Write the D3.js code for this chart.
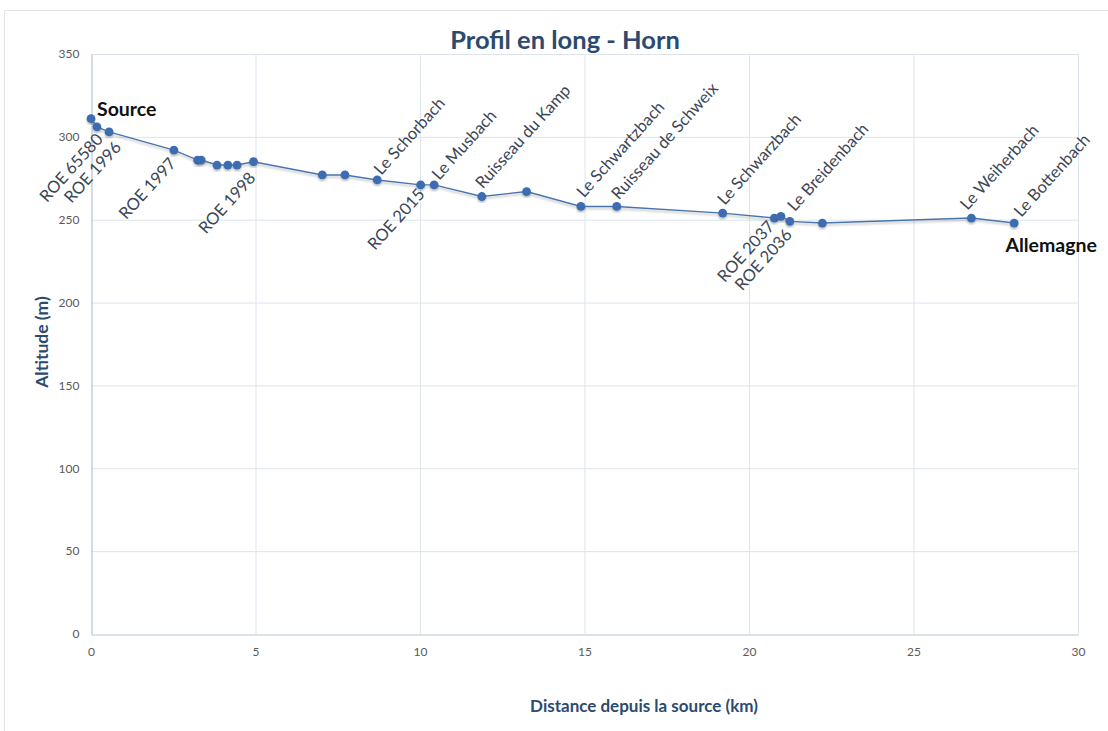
<!DOCTYPE html>
<html><head><meta charset="utf-8">
<script src="https://cdn.jsdelivr.net/npm/d3@7"></script>
<style>
html,body{margin:0;padding:0;background:#fff;}
svg{display:block;}
</style></head>
<body>
<svg id="chart" width="1108" height="731"></svg>
<script>
// ---- data ----
const distanceKm = [0, 0.18, 0.55, 2.52, 3.24, 3.35, 3.83, 4.16, 4.44, 4.94, 7.03, 7.72, 8.70, 10.02, 10.43, 11.88, 13.24, 14.89, 15.98, 19.20, 20.77, 20.97, 21.24, 22.23, 26.76, 28.06];
const altitudeM = [311, 306, 303, 292, 286, 286, 283, 283, 283, 285, 277, 277, 274, 271, 271, 264, 267, 258, 258, 254, 251, 252, 249, 248, 251, 248];
const pointNames = ["", "ROE 65580", "ROE 1996", "ROE 1997", "", "", "", "", "", "ROE 1998", "", "", "Le Schorbach", "ROE 2015", "Le Musbach", "Ruisseau du Kamp", "", "Le Schwartzbach", "Ruisseau de Schweix", "Le Schwarzbach", "ROE 2037", "ROE 2036", "Le Breidenbach", "", "Le Weiherbach", "Le Bottenbach"];
const startLabel = "Source";
const endLabel = "Allemagne";
const xTicks = [0, 5, 10, 15, 20, 25, 30];
const yTicks = [0, 50, 100, 150, 200, 250, 300, 350];
const titleText = "Profil en long - Horn";
const xTitle = "Distance depuis la source (km)";
const yTitle = "Altitude (m)";

// ---- label placement (pixel offsets from the marker, layout only) ----
const labelOffsets = {
  "ROE 65580": [7, 13], "ROE 1996": [13, 16], "ROE 1997": [3, 14], "ROE 1998": [3, 17],
  "ROE 2015": [5, 10], "ROE 2037": [1, 9], "ROE 2036": [12, 19],
  "Le Schorbach": [4, -4], "Le Musbach": [5, -4], "Ruisseau du Kamp": [1, -7],
  "Le Schwartzbach": [3, -8], "Ruisseau de Schweix": [2, -6], "Le Schwarzbach": [2, -7],
  "Le Breidenbach": [5, -9], "Le Weiherbach": [-4, -7], "Le Bottenbach": [7, -5]
};
const labelAngle = -48;

// ---- layout ----
const svg = d3.select("#chart");
const x = d3.scaleLinear().domain([0, 30]).range([91, 1078]);
const y = d3.scaleLinear().domain([0, 350]).range([634, 54]);
const FONT = "Lato, 'Open Sans', sans-serif";
const labelColor = "#3a4656";
const titleColor = "#2c4a6e";
const lineColor = "#4a74ad";
const dotColor = "#3e6db0";

// size point labels so the longest one spans the same length as in the reference
const probe = svg.append("text").attr("font-family", FONT).attr("font-size", 16).text("Ruisseau de Schweix");
const labelSize = 16 * 150 / probe.node().getComputedTextLength();
probe.remove();

// outer frame
svg.append("rect").attr("x", 4.5).attr("y", 10.5).attr("width", 1120).attr("height", 740)
  .attr("fill", "none").attr("stroke", "#e3e3e3").attr("stroke-width", 1);

const defs = svg.append("defs");
const f = defs.append("filter").attr("id", "sh").attr("x", "-5%").attr("y", "-20%").attr("width", "110%").attr("height", "140%");
f.append("feDropShadow").attr("dx", 0).attr("dy", 2).attr("stdDeviation", 1.2).attr("flood-color", "#000").attr("flood-opacity", 0.25);

// gridlines
svg.append("g").selectAll("line").data(yTicks.filter(d => d > 0)).join("line")
  .attr("x1", x(0)).attr("x2", x(30)).attr("y1", d => y(d) + 0.5).attr("y2", d => y(d) + 0.5)
  .attr("stroke", "#dde4ee").attr("stroke-width", 1);
svg.append("g").selectAll("line").data(xTicks.filter(d => d > 0)).join("line")
  .attr("y1", y(0)).attr("y2", y(350)).attr("x1", d => x(d) + 0.5).attr("x2", d => x(d) + 0.5)
  .attr("stroke", "#dde4ee").attr("stroke-width", 1);

// axes
const xAxis = d3.axisBottom(x).tickValues(xTicks).tickSize(0).tickPadding(13).tickFormat(d3.format("d"));
const yAxis = d3.axisLeft(y).tickValues(yTicks).tickSize(0).tickPadding(12).tickFormat(d3.format("d"));
const gx = svg.append("g").attr("transform", `translate(0,${y(0) + 0.5})`).call(xAxis);
const gy = svg.append("g").attr("transform", `translate(${x(0) + 0.5},0)`).call(yAxis);
[gx, gy].forEach(g => {
  g.select(".domain").attr("stroke", "#b5c3d8").attr("stroke-width", 1.2);
  g.selectAll("text").attr("fill", "#5a5a5a").attr("font-family", FONT).attr("font-size", 12);
});

// line + markers
const pts = distanceKm.map((d, i) => ({ d, a: altitudeM[i], name: pointNames[i] }));
const line = d3.line().x(p => x(p.d)).y(p => y(p.a));
svg.append("path").datum(pts).attr("d", line).attr("fill", "none")
  .attr("stroke", lineColor).attr("stroke-width", 1.4).attr("filter", "url(#sh)");
svg.append("g").selectAll("circle").data(pts).join("circle")
  .attr("cx", p => x(p.d)).attr("cy", p => y(p.a)).attr("r", 4.4)
  .attr("fill", dotColor).attr("filter", "url(#sh)");

// point labels (rotated)
const below = p => p.name.startsWith("ROE");
svg.append("g").selectAll("text").data(pts.filter(p => p.name)).join("text")
  .attr("transform", p => {
    const o = labelOffsets[p.name] || [0, 0];
    return `translate(${x(p.d) + o[0]},${y(p.a) + o[1]}) rotate(${labelAngle})`;
  })
  .attr("text-anchor", p => below(p) ? "end" : "start")
  .attr("font-family", FONT).attr("font-size", labelSize).attr("fill", labelColor)
  .text(p => p.name);

// source / destination labels
const first = pts[0], last = pts[pts.length - 1];
svg.append("text").attr("x", x(first.d) + 6).attr("y", y(first.a) - 3)
  .attr("font-family", FONT).attr("font-weight", "bold").attr("font-size", 19.5).attr("fill", "#111")
  .text(startLabel);
svg.append("text").attr("x", x(last.d) + 37).attr("y", y(last.a) + 29).attr("text-anchor", "middle")
  .attr("font-family", FONT).attr("font-weight", "bold").attr("font-size", 19.5).attr("fill", "#111")
  .text(endLabel);

// titles
svg.append("text").attr("x", 565).attr("y", 49).attr("text-anchor", "middle")
  .attr("font-family", FONT).attr("font-weight", "bold").attr("font-size", 25.5).attr("fill", titleColor)
  .text(titleText);
svg.append("text").attr("x", 644).attr("y", 712).attr("text-anchor", "middle")
  .attr("font-family", FONT).attr("font-weight", "bold").attr("font-size", 17).attr("fill", titleColor)
  .text(xTitle);
svg.append("text").attr("transform", "translate(48,342) rotate(-90)").attr("text-anchor", "middle")
  .attr("font-family", FONT).attr("font-weight", "bold").attr("font-size", 17.5).attr("fill", titleColor)
  .text(yTitle);
</script>
</body></html>
